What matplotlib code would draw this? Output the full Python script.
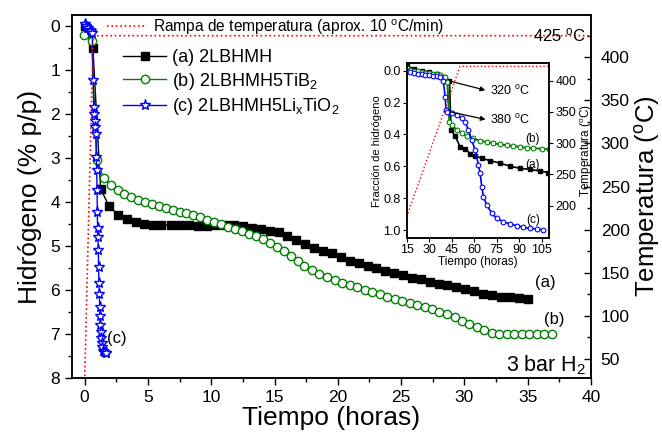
import numpy as np
import matplotlib
matplotlib.use('Agg')
import matplotlib.pyplot as plt
from matplotlib.ticker import MultipleLocator

# Fuente tipo Arial
plt.rcParams['font.family'] = ['Liberation Sans', 'DejaVu Sans']
plt.rcParams['mathtext.fontset'] = 'custom'
plt.rcParams['mathtext.rm'] = 'Liberation Sans'
plt.rcParams['mathtext.it'] = 'Liberation Sans:italic'
plt.rcParams['axes.linewidth'] = 1.1

# ============================================================
# Datos
# ============================================================
# (a) 2LBHMH
a_t = [0.0, 0.65, 1.26, 1.92, 2.63, 3.31, 4.02, 4.68, 5.42, 6.07, 6.81, 7.52, 8.23,
       8.94, 9.63, 10.34, 11.05, 11.76, 12.49, 13.2, 13.9, 14.62, 15.33, 16.0, 16.7,
       17.4, 18.1, 18.84, 19.55, 20.25, 20.93, 21.64, 22.35, 23.04, 23.75, 24.46,
       25.17, 25.88, 26.56, 27.27, 27.96, 28.66, 29.37, 30.08, 30.77, 31.5, 32.2,
       32.9, 33.6, 34.34, 35.05]
a_h = [0.0, 0.49, 3.70, 4.09, 4.29, 4.39, 4.45, 4.49, 4.52, 4.52, 4.53, 4.53, 4.53,
       4.54, 4.54, 4.52, 4.52, 4.52, 4.55, 4.58, 4.61, 4.65, 4.69, 4.78, 4.87,
       4.95, 5.04, 5.11, 5.17, 5.26, 5.33, 5.38, 5.45, 5.51, 5.56, 5.61,
       5.67, 5.72, 5.76, 5.81, 5.86, 5.89, 5.94, 5.98, 6.03, 6.08, 6.11,
       6.15, 6.17, 6.19, 6.21]

# (b) 2LBHMH5TiB2
b_t = [-0.05, 0.55, 0.97, 1.5, 2.05, 2.6, 3.13, 3.66, 4.22, 4.76, 5.31, 5.86, 6.39,
       6.94, 7.5, 8.02, 8.58, 9.15, 9.68, 10.23, 10.75, 11.3, 11.86, 12.42, 12.98,
       13.54, 14.1, 14.65, 15.2, 15.78, 16.31, 16.83, 17.36, 17.96, 18.54, 19.15,
       19.75, 20.33, 20.93, 21.51, 22.12, 22.7, 23.3, 23.88, 24.48, 25.09, 25.67,
       26.25, 26.85, 27.43, 28.03, 28.61, 29.22, 29.82, 30.4, 30.98, 31.56, 32.16,
       32.74, 33.35, 33.93, 34.53, 35.13, 35.71, 36.32, 36.9]
b_h = [0.2, 0.33, 3.05, 3.46, 3.62, 3.73, 3.82, 3.89, 3.95, 4.0, 4.05, 4.10, 4.14,
       4.18, 4.22, 4.26, 4.30, 4.35, 4.40, 4.45, 4.51, 4.56, 4.61, 4.66, 4.72,
       4.78, 4.85, 4.93, 5.02, 5.12, 5.22, 5.33, 5.45, 5.55, 5.63, 5.70,
       5.77, 5.83, 5.89, 5.94, 6.0, 6.05, 6.10, 6.15, 6.20, 6.24, 6.29,
       6.33, 6.39, 6.44, 6.49, 6.55, 6.62, 6.70, 6.77, 6.85, 6.92, 6.98,
       7.0, 7.01, 7.01, 7.01, 7.01, 7.0, 7.0, 7.01]

# (c) 2LBHMH5LixTiO2
c_t = [0.0, 0.1, 0.2, 0.3, 0.4, 0.5, 0.6, 0.66, 0.72, 0.76, 0.8, 0.84, 0.88, 0.92,
       0.95, 0.98, 1.0, 1.02, 1.05, 1.08, 1.1, 1.13, 1.16, 1.19, 1.22, 1.25, 1.28,
       1.31, 1.35, 1.4, 1.47, 1.55, 1.65, 1.72]
c_h = [-0.05, 0.0, 0.05, 0.05, 0.1, 0.12, 0.15, 1.23, 1.85, 2.0, 2.15, 2.3, 2.45, 2.97,
       3.27, 3.73, 4.22, 4.6, 4.8, 5.1, 5.47, 5.85, 6.1, 6.38, 6.6, 6.8, 6.95,
       7.08, 7.2, 7.3, 7.38, 7.42, 7.44, 7.44]

# Rampa de temperatura
ramp_t = [0.0, 0.67, 40.0]
ramp_T = [25, 425, 425]

# Inset: fraccion de hidrogeno
ia_t = [15, 20, 25, 30, 35, 40, 43.5, 44.5, 47.2, 50.6, 53.9, 57.2, 60.6, 65, 70.6,
        77.2, 83.9, 90.6, 97.2, 103.9, 109.4]
ia_f = [-0.03, -0.01, 0.0, 0.01, 0.02, 0.04, 0.065, 0.37, 0.41, 0.477, 0.49, 0.52,
        0.535, 0.55, 0.565, 0.58, 0.6, 0.613, 0.62, 0.63, 0.64]
ib_t = [15, 17.5, 20, 22.5, 25, 27.5, 30, 32.5, 35, 37.5, 40.6, 42.1, 43.4, 45, 48.3,
        51.7, 55, 59.4, 63.9, 68.3, 72.8, 77.2, 81.7, 86.1, 90.6, 95, 99.4, 105, 110]
ib_f = [-0.015, -0.005, 0.0, 0.004, 0.008, 0.012, 0.016, 0.02, 0.024, 0.03, 0.038,
        0.07, 0.32, 0.34, 0.372, 0.393, 0.41, 0.425, 0.44, 0.448, 0.456, 0.462,
        0.469, 0.473, 0.479, 0.483, 0.487, 0.49, 0.494]
ic_t = [15, 17.5, 20, 22.5, 25, 27.5, 30, 32.5, 35, 37.2, 39.4, 40.6, 41.2, 42.1, 45,
        48.3, 51.7, 53.9, 56.1, 58.3, 60.6, 62.8, 63.9, 65, 66.1, 68.3, 71.7, 75,
        79.4, 83.9, 88.3, 92.8, 97.2, 101.7, 106.1]
ic_f = [0.0, 0.008, 0.013, 0.018, 0.022, 0.026, 0.03, 0.033, 0.036, 0.04, 0.063,
        0.163, 0.247, 0.257, 0.268, 0.278, 0.3, 0.32, 0.372, 0.435, 0.498, 0.592,
        0.644, 0.728, 0.79, 0.843, 0.895, 0.927, 0.948, 0.962, 0.973, 0.983, 0.99,
        0.994, 1.0]
iramp_t = [15, 50.5, 110]
iramp_T = [182, 423, 423]

GREEN = '#008000'
BLUE = '#0000ff'
RED = '#ff0000'

# ============================================================
# Figura principal
# ============================================================
fig = plt.figure(figsize=(6.62, 4.32), dpi=100)
ax = fig.add_axes([72 / 662, 1 - 378 / 432, (591 - 72) / 662, (378 - 15) / 432])
ax2 = ax.twinx()

la, = ax.plot(a_t, a_h, '-s', color='black', ms=5.5, lw=1.0, label='(a) 2LBHMH')
lb, = ax.plot(b_t, b_h, '-o', color=GREEN, mfc='white', mew=1.0, ms=6, lw=1.0,
              label='(b) 2LBHMH5TiB$_2$')
lc, = ax.plot(c_t, c_h, '-*', color=BLUE, mfc='white', mew=1.0, ms=8, lw=1.0,
              label='(c) 2LBHMH5Li$_\\mathrm{x}$TiO$_2$')
lr, = ax2.plot(ramp_t, ramp_T, ':', color=RED, lw=1.2)

ax.set_xlim(-1, 40)
ax.set_ylim(8, -0.25)
ax2.set_ylim(28, 449)

ax.xaxis.set_major_locator(MultipleLocator(5))
ax.xaxis.set_minor_locator(MultipleLocator(2.5))
ax.yaxis.set_major_locator(MultipleLocator(1))
ax.yaxis.set_minor_locator(MultipleLocator(0.5))
ax2.yaxis.set_major_locator(MultipleLocator(50))
ax2.yaxis.set_minor_locator(MultipleLocator(25))
ax2.set_yticks([50, 100, 150, 200, 250, 300, 350, 400])

ax.tick_params(axis='both', which='major', direction='out', length=5, width=1.0,
               labelsize=12.5)
ax.tick_params(axis='both', which='minor', direction='out', length=3, width=1.0)
ax.tick_params(axis='y', which='both', right=False)
ax2.tick_params(axis='y', which='major', direction='in', length=5, width=1.0,
                labelsize=12.5, pad=7)
ax2.tick_params(axis='y', which='minor', direction='in', length=3, width=1.0)

ax.set_xlabel('Tiempo (horas)', fontsize=19, labelpad=1)
ax.set_ylabel('Hidrógeno (% p/p)', fontsize=19, labelpad=6)
ax2.set_ylabel('Temperatura ($^\\mathrm{o}$C)', fontsize=18.5, labelpad=2)

# Leyendas
leg1 = ax2.legend([lr], ['Rampa de temperatura (aprox. 10 $^\\mathrm{o}$C/min)'],
                  loc='center left', bbox_to_anchor=(107 / 662, 1 - 27 / 432),
                  bbox_transform=fig.transFigure, frameon=False, fontsize=11.2,
                  handlelength=2.6, handletextpad=0.35, borderpad=0, borderaxespad=0)
ax2.add_artist(leg1)
ax2.legend([la, lb, lc], [la.get_label(), lb.get_label(), lc.get_label()],
           loc='upper left', bbox_to_anchor=(123 / 662, 1 - 49 / 432),
           bbox_transform=fig.transFigure, frameon=False, fontsize=13,
           handlelength=2.4, handletextpad=0.3, labelspacing=0.25, borderpad=0,
           borderaxespad=0)

ax.text(35.6, 5.84, '(a)', fontsize=12, ha='left', va='center')
ax.text(36.3, 6.66, '(b)', fontsize=12, ha='left', va='center')
ax.text(1.8, 7.1, '(c)', fontsize=12, ha='left', va='center')
ax2.text(39.6, 425, '425 $^\\mathrm{o}$C', fontsize=12, ha='right', va='center')
ax.text(39.6, 7.7, '3 bar H$_2$', fontsize=15.5, ha='right', va='center')

# ============================================================
# Inset
# ============================================================
axi = fig.add_axes([406.7 / 662, 1 - 238 / 432, (549.3 - 406.7) / 662, (238 - 63.3) / 432])
axi2 = axi.twinx()
axi.plot(ia_t, ia_f, '-s', color='black', ms=3.2, lw=1.2)
axi.plot(ib_t, ib_f, '-o', color=GREEN, mfc='white', ms=3.4, mew=0.8, lw=1.4)
axi.plot(ic_t, ic_f, '-o', color=BLUE, mfc='white', ms=3.4, mew=0.8, lw=1.2)
axi2.plot(iramp_t, iramp_T, ':', color=RED, lw=1.0)

axi.set_xlim(15, 110)
axi.set_ylim(1.05, -0.046)
axi2.set_ylim(148, 428)
axi.set_xticks([15, 30, 45, 60, 75, 90, 105])
axi.set_yticks([0.0, 0.2, 0.4, 0.6, 0.8, 1.0])
axi2.set_yticks([200, 250, 300, 350, 400])
axi.tick_params(axis='both', direction='out', length=3, width=0.8, labelsize=9, pad=1.5)
axi.tick_params(axis='y', right=False)
axi2.tick_params(axis='y', direction='out', length=3, width=0.8, labelsize=9, pad=1.5)
axi.set_xlabel('Tiempo (horas)', fontsize=8.5, labelpad=0)
axi.set_ylabel('Fracción de hidrógeno', fontsize=8, labelpad=1)
axi2.set_ylabel('Temperatura ($^\\mathrm{o}$C)', fontsize=8.5, labelpad=1)

axi.annotate('', xy=(69.2, 0.127), xytext=(42.7, 0.063),
             arrowprops=dict(arrowstyle='-|>', color='black', lw=0.9, mutation_scale=7))
axi.annotate('', xy=(69.4, 0.31), xytext=(43.2, 0.257),
             arrowprops=dict(arrowstyle='-|>', color='black', lw=0.9, mutation_scale=7))
axi.text(70.5, 0.13, '320 $^\\mathrm{o}$C', fontsize=9, ha='left', va='center')
axi.text(70.5, 0.31, '380 $^\\mathrm{o}$C', fontsize=9, ha='left', va='center')
axi.text(99, 0.43, '(b)', fontsize=8.5, ha='center', va='center')
axi.text(99, 0.59, '(a)', fontsize=8.5, ha='center', va='center')
axi.text(99, 0.94, '(c)', fontsize=8.5, ha='center', va='center')

plt.savefig('out.png', dpi=100)
